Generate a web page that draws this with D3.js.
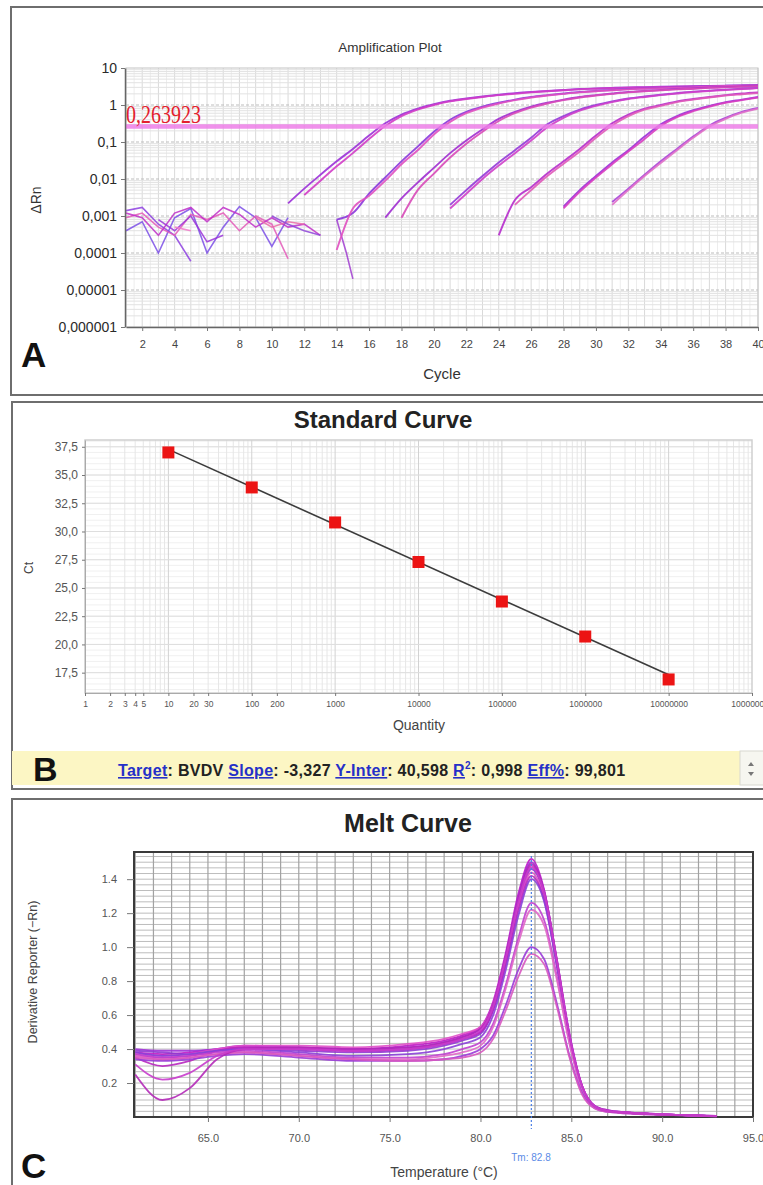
<!DOCTYPE html>
<html>
<head>
<meta charset="utf-8">
<style>
  body { margin: 0; background: #fff; }
  svg { display: block; font-family: "Liberation Sans", Arial, sans-serif; }
</style>
</head>
<body>

<script src="https://d3js.org/d3.v7.min.js"></script>
<script>

const width = 763;
const height = 1185;

// ---------- A: amplification plot ----------
const ampYTicks = [10, 1, 0.1, 0.01, 0.001, 0.0001, 0.00001, 0.000001];
const ampYLabels = ['10', '1', '0,1', '0,01', '0,001', '0,0001', '0,00001', '0,000001'];
const ampXTicks = [2, 4, 6, 8, 10, 12, 14, 16, 18, 20, 22, 24, 26, 28, 30, 32, 34, 36, 38, 40];
const threshold = 0.263923;

// first cycle of each run, then dRn for each cycle up to 40
const ampStart = [11, 12, 14, 14, 17, 18, 21, 21, 24, 25, 28, 28, 31, 31];
const amp1e7a = [0.0022, 0.0055, 0.013, 0.03, 0.065, 0.15, 0.32, 0.55, 0.8, 1.05, 1.3, 1.5, 1.7, 1.9, 2.1, 2.25, 2.4, 2.55, 2.7, 2.8, 2.9, 3.0, 3.05, 3.1, 3.15, 3.2, 3.25, 3.3, 3.35, 3.4];
const amp1e7b = [0.0037, 0.009, 0.022, 0.05, 0.12, 0.27, 0.5, 0.75, 1.0, 1.25, 1.45, 1.65, 1.85, 2.0, 2.2, 2.35, 2.5, 2.65, 2.75, 2.85, 2.95, 3.0, 3.05, 3.1, 3.15, 3.2, 3.25, 3.3, 3.35];
const amp1e6a = [0.0008, 0.0012, 0.004, 0.011, 0.03, 0.075, 0.19, 0.4, 0.65, 0.9, 1.15, 1.4, 1.65, 1.85, 2.05, 2.25, 2.4, 2.55, 2.7, 2.8, 2.9, 3.0, 3.1, 3.2, 3.3, 3.4, 3.5];
const amp1e6b = [0.00012, 0.0016, 0.0035, 0.009, 0.025, 0.06, 0.16, 0.35, 0.6, 0.85, 1.1, 1.35, 1.6, 1.8, 2.0, 2.2, 2.35, 2.5, 2.65, 2.75, 2.85, 2.95, 3.05, 3.15, 3.25, 3.3, 3.4];
const amp1e5a = [0.0009, 0.003, 0.008, 0.02, 0.05, 0.11, 0.22, 0.42, 0.65, 0.9, 1.15, 1.4, 1.65, 1.85, 2.05, 2.25, 2.4, 2.55, 2.7, 2.8, 2.95, 3.05, 3.15, 3.25];
const amp1e5b = [0.0009, 0.005, 0.014, 0.038, 0.09, 0.19, 0.37, 0.6, 0.85, 1.1, 1.35, 1.6, 1.8, 2.0, 2.2, 2.35, 2.5, 2.65, 2.75, 2.9, 3.0, 3.1, 3.2];
const amp1e4a = [0.002, 0.005, 0.012, 0.028, 0.06, 0.13, 0.3, 0.5, 0.75, 1.0, 1.25, 1.5, 1.7, 1.9, 2.1, 2.3, 2.45, 2.6, 2.75, 2.9];
const amp1e4b = [0.0016, 0.004, 0.01, 0.023, 0.05, 0.11, 0.25, 0.45, 0.7, 0.95, 1.2, 1.45, 1.65, 1.85, 2.05, 2.25, 2.4, 2.55, 2.7, 2.85];
const amp1e3a = [0.0003, 0.0027, 0.006, 0.014, 0.03, 0.065, 0.15, 0.32, 0.55, 0.8, 1.0, 1.25, 1.45, 1.65, 1.85, 2.05, 2.2];
const amp1e3b = [0.002, 0.005, 0.012, 0.026, 0.055, 0.13, 0.28, 0.5, 0.75, 0.95, 1.2, 1.4, 1.6, 1.8, 1.95, 2.1];
const amp1e2a = [0.0018, 0.005, 0.012, 0.028, 0.06, 0.14, 0.3, 0.5, 0.72, 0.95, 1.2, 1.4, 1.65];
const amp1e2b = [0.0016, 0.0045, 0.011, 0.025, 0.055, 0.12, 0.27, 0.47, 0.68, 0.9, 1.15, 1.35, 1.6];
const amp1e1a = [0.0024, 0.0055, 0.013, 0.03, 0.065, 0.14, 0.28, 0.45, 0.65, 0.83];
const amp1e1b = [0.002, 0.005, 0.012, 0.027, 0.06, 0.13, 0.26, 0.42, 0.62, 0.8];
const ampRuns = [amp1e7a, amp1e7b, amp1e6a, amp1e6b, amp1e5a, amp1e5b, amp1e4a, amp1e4b,
                 amp1e3a, amp1e3b, amp1e2a, amp1e2b, amp1e1a, amp1e1b];
const ampColors = ['#9b30d8', '#d23cc6', '#8a36dc', '#e04fc0', '#a02cd0', '#d84ab8', '#9438d8', '#cf3fc9',
                   '#b62ccc', '#e05ab8', '#9b30d8', '#d83cc0', '#a844d8', '#e070c8'];

// baseline noise before the curves take off: [cycle, dRn]
const ampNoise = [
  [[1, 0.0014], [2, 0.0017], [3, 0.0006], [4, 0.0003], [5, 0.00006]],
  [[1, 0.0004], [2, 0.0007], [3, 0.0001], [4, 0.0009], [5, 0.0016], [6, 0.0001], [7, 0.0005], [8, 0.0018], [9, 0.0009], [10, 0.00015], [11, 0.0009]],
  [[1, 0.0009], [2, 0.0012], [3, 0.0005], [4, 0.0003], [5, 0.0011], [6, 0.0008], [7, 0.0012], [8, 0.0004], [9, 0.001], [10, 0.0006], [11, 0.00007]],
  [[1, 0.0012], [2, 0.0009], [3, 0.0003], [4, 0.0012], [5, 0.0017], [6, 0.0007], [7, 0.0017], [8, 0.0011], [9, 0.0005], [10, 0.0009], [11, 0.0005], [12, 0.0006], [13, 0.0003]],
  [[3, 0.0008], [4, 0.0004], [5, 0.001], [6, 0.0002], [7, 0.0003]],
  [[4, 0.0005], [5, 0.0004]],
  [[9, 0.0009], [10, 0.0005], [11, 0.0007], [12, 0.0006]],
  [[10, 0.001], [11, 0.0006], [12, 0.0004], [13, 0.0003]],
  [[14, 0.0008], [14.6, 0.0001], [15, 0.00002]]
];
const noiseColors = ['#8d3fe0', '#7b4fe6', '#e35bb8', '#c02fc8', '#9b35d8', '#f07ac8', '#ea6aa8', '#8e44d8', '#a03cd0'];

// ---------- B: standard curve ----------
const stdQty = [10, 100, 1000, 10000, 100000, 1000000, 10000000];
const stdCt = [37.0, 33.9, 30.8, 27.3, 23.8, 20.7, 16.9];
const stdYTicks = [17.5, 20.0, 22.5, 25.0, 27.5, 30.0, 32.5, 35.0, 37.5];
const stdXTicks = [1, 2, 3, 4, 5, 10, 20, 30, 100, 200, 1000, 10000, 100000, 1000000, 10000000, 100000000];
const fitTarget = 'BVDV';
const fitSlope = -3.327;
const fitIntercept = 40.598;
const fitR2 = 0.998;
const fitEff = 99.801;

// ---------- C: melt curve ----------
const meltTemps = [61, 62.5, 64, 65.5, 67, 70, 73, 76, 78, 79, 80, 80.7, 81.4, 82.1, 82.8, 83.5, 84.2, 84.9, 85.6, 86.3, 87, 88, 90, 92, 93];
const melt1 = [0.38, 0.37, 0.38, 0.40, 0.41, 0.40, 0.40, 0.42, 0.45, 0.48, 0.53, 0.68, 0.97, 1.32, 1.52, 1.34, 0.92, 0.47, 0.17, 0.06, 0.035, 0.025, 0.015, 0.008, 0.005];
const melt2 = [0.40, 0.39, 0.39, 0.40, 0.42, 0.41, 0.40, 0.41, 0.44, 0.47, 0.52, 0.66, 0.95, 1.30, 1.50, 1.33, 0.93, 0.49, 0.18, 0.065, 0.04, 0.028, 0.016, 0.009, 0.006];
const melt3 = [0.36, 0.35, 0.36, 0.39, 0.41, 0.41, 0.39, 0.40, 0.43, 0.46, 0.50, 0.64, 0.93, 1.27, 1.48, 1.32, 0.92, 0.48, 0.18, 0.06, 0.035, 0.025, 0.015, 0.008, 0.005];
const melt4 = [0.39, 0.38, 0.37, 0.39, 0.40, 0.39, 0.38, 0.39, 0.42, 0.45, 0.49, 0.63, 0.91, 1.25, 1.46, 1.31, 0.91, 0.47, 0.17, 0.06, 0.035, 0.025, 0.015, 0.008, 0.005];
const melt5 = [0.37, 0.36, 0.37, 0.40, 0.42, 0.42, 0.41, 0.43, 0.46, 0.49, 0.53, 0.66, 0.93, 1.25, 1.44, 1.29, 0.90, 0.46, 0.17, 0.06, 0.035, 0.025, 0.015, 0.008, 0.005];
const melt6 = [0.35, 0.30, 0.33, 0.39, 0.41, 0.40, 0.39, 0.40, 0.43, 0.46, 0.50, 0.63, 0.90, 1.22, 1.42, 1.28, 0.90, 0.47, 0.18, 0.065, 0.04, 0.028, 0.016, 0.009, 0.006];
const melt7 = [0.38, 0.36, 0.37, 0.39, 0.40, 0.38, 0.36, 0.37, 0.40, 0.43, 0.47, 0.60, 0.87, 1.19, 1.40, 1.27, 0.89, 0.46, 0.17, 0.06, 0.035, 0.025, 0.015, 0.008, 0.005];
const melt8 = [0.37, 0.35, 0.36, 0.38, 0.39, 0.37, 0.35, 0.35, 0.37, 0.40, 0.44, 0.55, 0.78, 1.06, 1.26, 1.16, 0.83, 0.44, 0.16, 0.06, 0.035, 0.025, 0.015, 0.008, 0.005];
const melt9 = [0.36, 0.34, 0.35, 0.37, 0.38, 0.36, 0.34, 0.34, 0.36, 0.38, 0.42, 0.53, 0.76, 1.03, 1.22, 1.13, 0.81, 0.43, 0.16, 0.06, 0.035, 0.025, 0.015, 0.008, 0.005];
const melt10 = [0.34, 0.33, 0.34, 0.36, 0.37, 0.35, 0.33, 0.33, 0.34, 0.36, 0.40, 0.48, 0.66, 0.87, 1.00, 0.93, 0.67, 0.36, 0.14, 0.05, 0.03, 0.022, 0.013, 0.007, 0.004];
const melt11 = [0.35, 0.34, 0.35, 0.37, 0.38, 0.36, 0.34, 0.33, 0.34, 0.35, 0.38, 0.46, 0.63, 0.83, 0.96, 0.90, 0.65, 0.35, 0.13, 0.05, 0.03, 0.022, 0.013, 0.007, 0.004];
const melt12 = [0.25, 0.10, 0.17, 0.34, 0.40, 0.41, 0.40, 0.41, 0.44, 0.47, 0.52, 0.66, 0.95, 1.29, 1.49, 1.33, 0.93, 0.48, 0.18, 0.06, 0.035, 0.025, 0.015, 0.008, 0.005];
const melt13 = [0.31, 0.22, 0.26, 0.36, 0.40, 0.40, 0.39, 0.40, 0.43, 0.46, 0.51, 0.65, 0.94, 1.27, 1.47, 1.32, 0.92, 0.48, 0.18, 0.06, 0.035, 0.025, 0.015, 0.008, 0.005];
const meltRuns = [melt1, melt2, melt3, melt4, melt5, melt6, melt7, melt8, melt9, melt10, melt11, melt12, melt13];
const meltColors = ['#c018c8', '#a030d8', '#d030c8', '#9038d0', '#e050c8', '#b828c0', '#8a40d8', '#c040d0', '#e068c8', '#9a3cd8', '#d858c0', '#b42ab8', '#c83ccc'];
const meltYTicks = [0.2, 0.4, 0.6, 0.8, 1.0, 1.2, 1.4];
const meltXTicks = [65, 70, 75, 80, 85, 90, 95];
const meltTm = 82.8;

// ---------- page ----------
const svg = d3.select('body')
              .append('svg')
              .attr('width', width)
              .attr('height', height);

const styleAxis = (g, size, color) => {
  g.selectAll('text').attr('font-size', size).attr('fill', color);
  g.selectAll('.tick line').attr('stroke', '#777');
  g.select('.domain').attr('stroke', '#666');
};

// panel frames
svg.append('rect').attr('x', 11).attr('y', 7).attr('width', 770).attr('height', 388)
   .attr('fill', 'none').attr('stroke', '#6e6e6e').attr('stroke-width', 2);
svg.append('rect').attr('x', 12).attr('y', 402).attr('width', 770).attr('height', 387)
   .attr('fill', 'none').attr('stroke', '#6e6e6e').attr('stroke-width', 2);
svg.append('rect').attr('x', 12).attr('y', 799).attr('width', 770).attr('height', 400)
   .attr('fill', 'none').attr('stroke', '#6e6e6e').attr('stroke-width', 2);

// ===== A =====
const xA = d3.scaleLinear().domain([1, 40]).range([126, 758]);
const yA = d3.scaleLog().domain([0.000001, 10]).range([327, 68]);

const gA = svg.append('g');

// grid
gA.selectAll('.vminor')
  .data(d3.range(1.5, 40, 1))
  .enter().append('line')
  .attr('x1', d => xA(d)).attr('x2', d => xA(d))
  .attr('y1', 68).attr('y2', 327)
  .attr('stroke', '#ededed');
gA.selectAll('.vmajor')
  .data(d3.range(2, 41, 1))
  .enter().append('line')
  .attr('x1', d => xA(d)).attr('x2', d => xA(d))
  .attr('y1', 68).attr('y2', 327)
  .attr('stroke', '#d9d9d9');
const logMinor = [];
ampYTicks.slice(1).forEach(p => d3.range(2, 10).forEach(k => logMinor.push(p * k)));
gA.selectAll('.hminor')
  .data(logMinor)
  .enter().append('line')
  .attr('x1', 126).attr('x2', 758)
  .attr('y1', d => yA(d)).attr('y2', d => yA(d))
  .attr('stroke', '#e2e2e2');
gA.selectAll('.hmajor')
  .data(ampYTicks.slice(1, -1))
  .enter().append('line')
  .attr('x1', 126).attr('x2', 758)
  .attr('y1', d => yA(d)).attr('y2', d => yA(d))
  .attr('stroke', '#bdbdbd')
  .attr('stroke-dasharray', '3,2');
gA.append('rect').attr('x', 126).attr('y', 68).attr('width', 632).attr('height', 259)
  .attr('fill', 'none').attr('stroke', '#c4c4c4');

svg.append('clipPath').attr('id', 'clipA')
   .append('rect').attr('x', 126).attr('y', 68).attr('width', 633).attr('height', 259);

const lineA = d3.line().x(d => xA(d[0])).y(d => yA(d[1]));
const curveA = d3.line().x(d => xA(d[0])).y(d => yA(d[1])).curve(d3.curveMonotoneX);

const plotA = gA.append('g').attr('clip-path', 'url(#clipA)');

plotA.selectAll('.noise')
  .data(ampNoise)
  .enter().append('path')
  .attr('d', lineA)
  .attr('fill', 'none')
  .attr('stroke', (d, i) => noiseColors[i])
  .attr('stroke-width', 1.6)
  .attr('opacity', 0.85);

plotA.selectAll('.run')
  .data(ampRuns.map((vals, i) => vals.map((v, j) => [ampStart[i] + j, v])))
  .enter().append('path')
  .attr('d', curveA)
  .attr('fill', 'none')
  .attr('stroke', (d, i) => ampColors[i])
  .attr('stroke-width', 1.9)
  .attr('opacity', 0.9);

// threshold
plotA.append('line')
  .attr('x1', 126).attr('x2', 758)
  .attr('y1', yA(threshold)).attr('y2', yA(threshold))
  .attr('stroke', '#ee7ee8')
  .attr('stroke-width', 4.5)
  .attr('opacity', 0.85);

svg.append('text')
   .attr('transform', `translate(126,${yA(threshold) - 3}) scale(1,1.25)`)
   .attr('font-family', '"Liberation Serif", "Times New Roman", serif')
   .attr('font-size', 20)
   .attr('fill', '#e3202e')
   .text(String(threshold).replace('.', ','));

// axes
const axAy = svg.append('g')
  .attr('transform', 'translate(125,0)')
  .call(d3.axisLeft(yA).tickValues(ampYTicks).tickFormat((d, i) => ampYLabels[i]).tickSize(4).tickSizeOuter(0).tickPadding(4));
styleAxis(axAy, 14, '#2a2a2a');
axAy.select('.domain').attr('stroke-width', 1.5);

const axAx = svg.append('g')
  .attr('transform', 'translate(0,327)')
  .call(d3.axisBottom(xA).tickValues(ampXTicks).tickSize(4).tickSizeOuter(0).tickPadding(9));
styleAxis(axAx, 11, '#444');
axAx.select('.domain').attr('stroke-width', 1.5);

svg.append('text').attr('x', 390).attr('y', 52).attr('text-anchor', 'middle')
   .attr('font-size', 13.5).attr('fill', '#333').text('Amplification Plot');
svg.append('text').attr('x', 442).attr('y', 379).attr('text-anchor', 'middle')
   .attr('font-size', 15).attr('fill', '#333').text('Cycle');
svg.append('text').attr('transform', 'translate(41,200) rotate(-90)').attr('text-anchor', 'middle')
   .attr('font-size', 14).attr('fill', '#333').text('ΔRn');
svg.append('text').attr('x', 21).attr('y', 367)
   .attr('font-size', 35).attr('font-weight', 'bold').attr('fill', '#111').text('A');

// ===== B =====
const xB = d3.scaleLog().domain([1, 1e8]).range([85, 752]);
const yB = d3.scaleLinear().domain([15.7, 38.1]).range([693, 440]);

const gB = svg.append('g');
const qtyMinor = [];
d3.range(0, 8).forEach(p => d3.range(1, 10).forEach(k => qtyMinor.push(k * Math.pow(10, p))));
gB.selectAll('.hminor')
  .data(d3.range(16, 38.1, 0.5))
  .enter().append('line')
  .attr('x1', 85).attr('x2', 752)
  .attr('y1', d => yB(d)).attr('y2', d => yB(d))
  .attr('stroke', '#f0f0f0');
gB.selectAll('.vminor')
  .data(qtyMinor)
  .enter().append('line')
  .attr('x1', d => xB(d)).attr('x2', d => xB(d))
  .attr('y1', 440).attr('y2', 693)
  .attr('stroke', (d, i) => i % 9 === 0 ? '#d2d2d2' : '#e6e6e6');
gB.selectAll('.hmajor')
  .data(stdYTicks)
  .enter().append('line')
  .attr('x1', 85).attr('x2', 752)
  .attr('y1', d => yB(d)).attr('y2', d => yB(d))
  .attr('stroke', '#dedede');
gB.append('rect').attr('x', 85).attr('y', 440).attr('width', 667).attr('height', 253)
  .attr('fill', 'none').attr('stroke', '#cfcfcf').attr('stroke-width', 1.5);

// fit line
gB.append('line')
  .attr('x1', xB(stdQty[0])).attr('y1', yB(fitIntercept + fitSlope * Math.log10(stdQty[0])))
  .attr('x2', xB(stdQty[6])).attr('y2', yB(fitIntercept + fitSlope * Math.log10(stdQty[6])))
  .attr('stroke', '#3c3c3c')
  .attr('stroke-width', 1.6);

gB.selectAll('.pt')
  .data(stdQty)
  .enter().append('rect')
  .attr('x', d => xB(d) - 6)
  .attr('y', (d, i) => yB(stdCt[i]) - 6)
  .attr('width', 12).attr('height', 12)
  .attr('fill', '#ec1414');

const axBy = svg.append('g')
  .attr('transform', 'translate(85,0)')
  .call(d3.axisLeft(yB).tickValues(stdYTicks).tickFormat(d => d3.format('.1f')(d).replace('.', ',')).tickSize(3).tickSizeOuter(0).tickPadding(4));
styleAxis(axBy, 12, '#555');
axBy.select('.domain').attr('stroke', '#aaa');

const axBx = svg.append('g')
  .attr('transform', 'translate(0,693)')
  .call(d3.axisBottom(xB).tickValues(stdXTicks).tickFormat(d => String(d)).tickSize(3).tickSizeOuter(0).tickPadding(5));
styleAxis(axBx, 8.5, '#555');
axBx.select('.domain').attr('stroke', '#aaa');

svg.append('text').attr('x', 383).attr('y', 428).attr('text-anchor', 'middle')
   .attr('font-size', 24).attr('font-weight', 'bold').attr('fill', '#222').text('Standard Curve');
svg.append('text').attr('x', 419).attr('y', 730).attr('text-anchor', 'middle')
   .attr('font-size', 14).attr('fill', '#444').text('Quantity');
svg.append('text').attr('transform', 'translate(33,568) rotate(-90)').attr('text-anchor', 'middle')
   .attr('font-size', 12).attr('fill', '#444').text('Ct');

// info bar
svg.append('rect').attr('x', 12).attr('y', 751).attr('width', 728).attr('height', 34).attr('fill', '#fcf6c4');
svg.append('rect').attr('x', 740).attr('y', 751).attr('width', 24).attr('height', 34)
   .attr('fill', '#f6f6f0').attr('stroke', '#d8d8d0');
svg.append('path').attr('d', 'M748,766 l3,-4 l3,4 z M748,772 l3,4 l3,-4 z').attr('fill', '#777');
svg.append('text').attr('x', 33).attr('y', 781)
   .attr('font-size', 34).attr('font-weight', 'bold').attr('fill', '#111').text('B');

const comma = v => String(v).replace('.', ',');
const info = svg.append('text').attr('x', 118).attr('y', 776)
  .attr('font-size', 16).attr('font-weight', 'bold').attr('letter-spacing', 0.3).attr('fill', '#222');
const link = t => info.append('tspan').attr('fill', '#2530c8').style('text-decoration', 'underline').text(t);
link('Target');
info.append('tspan').text(`: ${fitTarget} `);
link('Slope');
info.append('tspan').text(`: ${comma(fitSlope)} `);
link('Y-Inter');
info.append('tspan').text(`: ${comma(fitIntercept)} `);
link('R');
info.append('tspan').attr('fill', '#2530c8').attr('font-size', 10).attr('dy', -7).text('2');
info.append('tspan').attr('dy', 7).text(`: ${comma(fitR2)} `);
link('Eff%');
info.append('tspan').text(`: ${comma(fitEff)}`);

// ===== C =====
const xC = d3.scaleLinear().domain([60.93, 95]).range([134, 753]);
const yC = d3.scaleLinear().domain([0, 1.56]).range([1117, 852]);

const gC = svg.append('g');
gC.selectAll('.hgrid')
  .data(d3.range(1, 47).map(k => k / 30))
  .enter().append('line')
  .attr('x1', 134).attr('x2', 753)
  .attr('y1', d => yC(d)).attr('y2', d => yC(d))
  .attr('stroke', '#bdbdbd');
gC.selectAll('.vgrid')
  .data(d3.range(61, 95))
  .enter().append('line')
  .attr('x1', d => xC(d)).attr('x2', d => xC(d))
  .attr('y1', 852).attr('y2', 1117)
  .attr('stroke', '#a2a2a2')
  .attr('stroke-width', 1.2);
gC.append('rect').attr('x', 134).attr('y', 852).attr('width', 619).attr('height', 265)
  .attr('fill', 'none').attr('stroke', '#3a3a3a').attr('stroke-width', 2);

const curveC = d3.line().x((d, i) => xC(meltTemps[i])).y(d => yC(d)).curve(d3.curveMonotoneX);
gC.selectAll('.melt')
  .data(meltRuns)
  .enter().append('path')
  .attr('d', curveC)
  .attr('fill', 'none')
  .attr('stroke', (d, i) => meltColors[i])
  .attr('stroke-width', 1.8)
  .attr('opacity', 0.9);

gC.append('line')
  .attr('x1', xC(meltTm)).attr('x2', xC(meltTm))
  .attr('y1', 856).attr('y2', 1129)
  .attr('stroke', '#4c7fe6')
  .attr('stroke-width', 1.2)
  .attr('stroke-dasharray', '2,2');

const axCy = svg.append('g')
  .attr('transform', 'translate(134,0)')
  .call(d3.axisLeft(yC).tickValues(meltYTicks).tickFormat(d3.format('.1f')).tickSize(7).tickSizeOuter(0).tickPadding(10));
styleAxis(axCy, 11, '#555');
axCy.select('.domain').remove();

const axCx = svg.append('g')
  .attr('transform', 'translate(0,1117)')
  .call(d3.axisBottom(xC).tickValues(meltXTicks).tickFormat(d3.format('.1f')).tickSize(5).tickSizeOuter(0).tickPadding(12));
styleAxis(axCx, 11, '#555');
axCx.select('.domain').remove();

svg.append('text').attr('x', 531).attr('y', 1161).attr('text-anchor', 'middle')
   .attr('font-size', 10).attr('fill', '#5b8be6').text(`Tm: ${meltTm}`);
svg.append('text').attr('x', 408).attr('y', 832).attr('text-anchor', 'middle')
   .attr('font-size', 25).attr('font-weight', 'bold').attr('fill', '#222').text('Melt Curve');
svg.append('text').attr('x', 444).attr('y', 1177).attr('text-anchor', 'middle')
   .attr('font-size', 14).attr('fill', '#444').text('Temperature (°C)');
svg.append('text').attr('transform', 'translate(37,972) rotate(-90)').attr('text-anchor', 'middle')
   .attr('font-size', 12.5).attr('fill', '#444').text('Derivative Reporter (−Rn)');
svg.append('text').attr('x', 21).attr('y', 1178)
   .attr('font-size', 35).attr('font-weight', 'bold').attr('fill', '#111').text('C');

</script>
</body>
</html>
